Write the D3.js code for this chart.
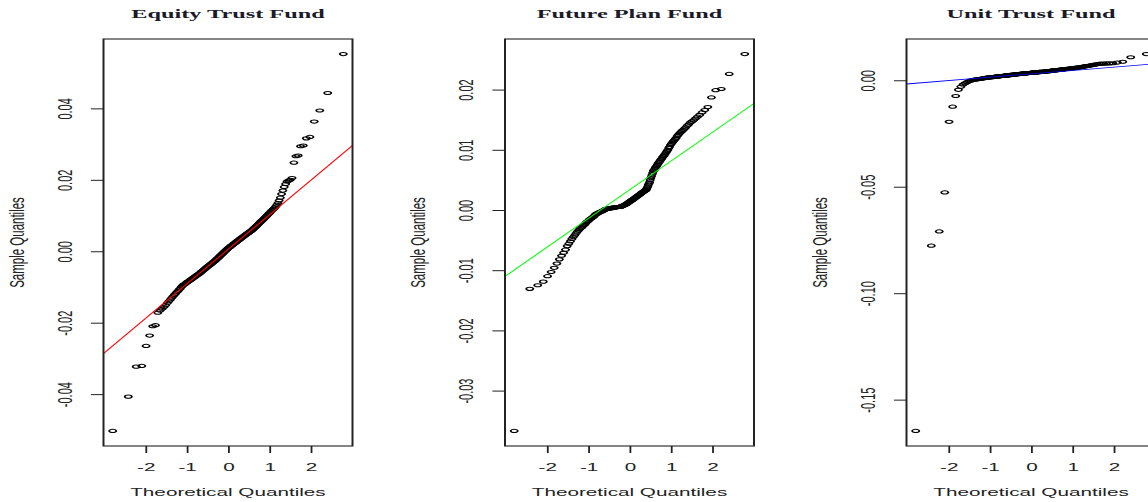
<!DOCTYPE html>
<html>
<head>
<meta charset="utf-8">
<script src="https://cdn.jsdelivr.net/npm/d3@7"></script>
<style>
html, body { margin: 0; padding: 0; background: #fff; overflow: hidden; }
svg { display: block; }
</style>
</head>
<body>
<div id="chart"></div>
<script>
// sample quantiles (sorted returns)
var titles = ["Equity Trust Fund", "Future Plan Fund", "Unit Trust Fund"];

var equity = [
  -0.0503, -0.0407, -0.0323, -0.0321, -0.0265, -0.0236, -0.0210, -0.0207, -0.0172, -0.0166,
  -0.0161, -0.0156, -0.0151, -0.0145, -0.0140, -0.0135, -0.0130, -0.0126, -0.0122, -0.0118,
  -0.0114, -0.0111, -0.0107, -0.0104, -0.0100, -0.0097, -0.0094, -0.0093, -0.0091, -0.0089,
  -0.0087, -0.0085, -0.0084, -0.0082, -0.0080, -0.0079, -0.0077, -0.0075, -0.0074, -0.0072,
  -0.0071, -0.0069, -0.0068, -0.0066, -0.0065, -0.0064, -0.0062, -0.0061, -0.0059, -0.0057,
  -0.0056, -0.0054, -0.0053, -0.0051, -0.0050, -0.0048, -0.0047, -0.0045, -0.0044, -0.0042,
  -0.0041, -0.0040, -0.0039, -0.0037, -0.0036, -0.0035, -0.0033, -0.0032, -0.0030, -0.0029,
  -0.0028, -0.0027, -0.0025, -0.0024, -0.0022, -0.0021, -0.0019, -0.0018, -0.0016, -0.0015,
  -0.0013, -0.0012, -0.0010, -0.0009, -0.0007, -0.0006, -0.0004, -0.0003, -0.0001, 0.0000,
  0.0002, 0.0003, 0.0004, 0.0006, 0.0007, 0.0009, 0.0010, 0.0011, 0.0012, 0.0013,
  0.0015, 0.0016, 0.0017, 0.0018, 0.0019, 0.0021, 0.0022, 0.0023, 0.0024, 0.0025,
  0.0027, 0.0028, 0.0029, 0.0030, 0.0031, 0.0033, 0.0034, 0.0035, 0.0036, 0.0038,
  0.0039, 0.0040, 0.0041, 0.0042, 0.0044, 0.0045, 0.0046, 0.0047, 0.0049, 0.0050,
  0.0051, 0.0052, 0.0054, 0.0055, 0.0056, 0.0057, 0.0059, 0.0060, 0.0062, 0.0064,
  0.0066, 0.0067, 0.0069, 0.0071, 0.0073, 0.0075, 0.0077, 0.0079, 0.0081, 0.0083,
  0.0085, 0.0087, 0.0089, 0.0091, 0.0094, 0.0096, 0.0098, 0.0101, 0.0103, 0.0106,
  0.0108, 0.0111, 0.0114, 0.0116, 0.0119, 0.0122, 0.0125, 0.0130, 0.0135, 0.0142,
  0.0150, 0.0160, 0.0170, 0.0180, 0.0188, 0.0195, 0.0198, 0.0200, 0.0205, 0.0248,
  0.0266, 0.0268, 0.0294, 0.0296, 0.0316, 0.0320, 0.0363, 0.0394, 0.0443, 0.0552
];

var futurePlan = [
  -0.0367, -0.0131, -0.0125, -0.0119, -0.0110, -0.0103, -0.0096, -0.0089, -0.0082, -0.0076,
  -0.0071, -0.0066, -0.0060, -0.0056, -0.0052, -0.0048, -0.0045, -0.0042, -0.0039, -0.0036,
  -0.0034, -0.0032, -0.0030, -0.0029, -0.0027, -0.0025, -0.0024, -0.0022, -0.0020, -0.0019,
  -0.0018, -0.0016, -0.0015, -0.0014, -0.0013, -0.0012, -0.0011, -0.0010, -0.0008, -0.0007,
  -0.0006, -0.0006, -0.0005, -0.0004, -0.0004, -0.0003, -0.0003, -0.0002, -0.0002, -0.0001,
  -0.0001, 0.0000, 0.0001, 0.0001, 0.0002, 0.0002, 0.0002, 0.0002, 0.0003, 0.0003,
  0.0003, 0.0003, 0.0003, 0.0003, 0.0004, 0.0004, 0.0004, 0.0004, 0.0004, 0.0004,
  0.0004, 0.0005, 0.0005, 0.0005, 0.0005, 0.0005, 0.0005, 0.0005, 0.0005, 0.0006,
  0.0006, 0.0007, 0.0007, 0.0007, 0.0008, 0.0008, 0.0009, 0.0009, 0.0009, 0.0010,
  0.0011, 0.0011, 0.0012, 0.0013, 0.0013, 0.0014, 0.0015, 0.0015, 0.0016, 0.0016,
  0.0017, 0.0018, 0.0018, 0.0019, 0.0020, 0.0020, 0.0021, 0.0022, 0.0022, 0.0023,
  0.0024, 0.0024, 0.0025, 0.0026, 0.0026, 0.0027, 0.0028, 0.0029, 0.0029, 0.0030,
  0.0031, 0.0031, 0.0032, 0.0033, 0.0033, 0.0035, 0.0037, 0.0039, 0.0042, 0.0044,
  0.0046, 0.0050, 0.0053, 0.0056, 0.0059, 0.0062, 0.0065, 0.0066, 0.0068, 0.0070,
  0.0072, 0.0073, 0.0075, 0.0077, 0.0079, 0.0080, 0.0082, 0.0084, 0.0085, 0.0087,
  0.0089, 0.0090, 0.0092, 0.0094, 0.0096, 0.0098, 0.0100, 0.0103, 0.0105, 0.0108,
  0.0110, 0.0112, 0.0114, 0.0116, 0.0118, 0.0120, 0.0123, 0.0125, 0.0127, 0.0129,
  0.0131, 0.0133, 0.0135, 0.0137, 0.0140, 0.0142, 0.0145, 0.0147, 0.0149, 0.0152,
  0.0155, 0.0158, 0.0162, 0.0166, 0.0171, 0.0187, 0.0199, 0.0201, 0.0226, 0.0259
];

var unitTrust = [
  -0.1647, -0.0777, -0.0710, -0.0527, -0.0195, -0.0124, -0.0074, -0.0045, -0.0030, -0.0020,
  -0.0014, -0.0009, -0.0005, -0.0002, 0.0000, 0.0002, 0.0003, 0.0004, 0.0005, 0.0006,
  0.0007, 0.0007, 0.0008, 0.0009, 0.0010, 0.0011, 0.0011, 0.0012, 0.0013, 0.0013,
  0.0014, 0.0014, 0.0015, 0.0015, 0.0015, 0.0016, 0.0016, 0.0017, 0.0017, 0.0018,
  0.0018, 0.0019, 0.0019, 0.0019, 0.0020, 0.0020, 0.0020, 0.0021, 0.0021, 0.0022,
  0.0022, 0.0022, 0.0023, 0.0023, 0.0023, 0.0024, 0.0024, 0.0024, 0.0025, 0.0025,
  0.0026, 0.0026, 0.0026, 0.0027, 0.0027, 0.0027, 0.0027, 0.0028, 0.0028, 0.0028,
  0.0029, 0.0029, 0.0029, 0.0029, 0.0030, 0.0030, 0.0030, 0.0030, 0.0031, 0.0031,
  0.0031, 0.0031, 0.0032, 0.0032, 0.0032, 0.0033, 0.0033, 0.0033, 0.0033, 0.0034,
  0.0034, 0.0034, 0.0034, 0.0035, 0.0035, 0.0035, 0.0035, 0.0036, 0.0036, 0.0036,
  0.0036, 0.0037, 0.0037, 0.0037, 0.0037, 0.0038, 0.0038, 0.0038, 0.0038, 0.0038,
  0.0039, 0.0039, 0.0039, 0.0039, 0.0040, 0.0040, 0.0040, 0.0040, 0.0041, 0.0041,
  0.0041, 0.0041, 0.0042, 0.0042, 0.0042, 0.0043, 0.0043, 0.0043, 0.0044, 0.0044,
  0.0044, 0.0045, 0.0045, 0.0045, 0.0046, 0.0046, 0.0047, 0.0047, 0.0047, 0.0048,
  0.0048, 0.0048, 0.0049, 0.0049, 0.0050, 0.0050, 0.0050, 0.0051, 0.0051, 0.0052,
  0.0052, 0.0053, 0.0053, 0.0054, 0.0054, 0.0054, 0.0055, 0.0055, 0.0056, 0.0056,
  0.0057, 0.0057, 0.0058, 0.0058, 0.0059, 0.0060, 0.0060, 0.0061, 0.0062, 0.0063,
  0.0064, 0.0065, 0.0066, 0.0067, 0.0068, 0.0069, 0.0071, 0.0072, 0.0074, 0.0075,
  0.0077, 0.0078, 0.0078, 0.0079, 0.0079, 0.0080, 0.0083, 0.0087, 0.0108, 0.0123
];

// qqline of each panel
var lineIntercepts = [0.0005, 0.00334, 0.0030];
var lineSlopes = [0.00966, 0.004766, 0.00158];
var lineColors = ["#ff0000", "#00ff00", "#0000ff"];

var xTicks = [-2, -1, 0, 1, 2];
var yTicks = [
  [-0.04, -0.02, 0.00, 0.02, 0.04],
  [-0.03, -0.02, -0.01, 0.00, 0.01, 0.02],
  [-0.15, -0.10, -0.05, 0.00]
];

var samples = [equity, futurePlan, unitTrust];

// the original R device got stretched sideways, so draw in a narrow box and stretch it
var stretch = 1.8;
var W = 1148, H = 502;
var panelLeft = [103.5, 505, 906.5];   // screen px
var panelWidth = 249;
var plotTop = 39, plotBottom = 446;

var svg = d3.select("#chart")
  .append("svg")
  .attr("width", W)
  .attr("height", H)
  .attr("viewBox", "0 0 " + (W / stretch) + " " + H)
  .attr("preserveAspectRatio", "none");

// inverse normal cdf (Acklam), for the theoretical quantiles
function qnorm(p) {
  var a = [-3.969683028665376e+01, 2.209460984245205e+02, -2.759285104469687e+02, 1.383577518672690e+02, -3.066479806614716e+01, 2.506628277459239e+00];
  var b = [-5.447609879822406e+01, 1.615858368580409e+02, -1.556989798598866e+02, 6.680131188771972e+01, -1.328068155288572e+01];
  var c = [-7.784894002430293e-03, -3.223964580411365e-01, -2.400758277161838e+00, -2.549732539343734e+00, 4.374664141464968e+00, 2.938163982698783e+00];
  var d = [7.784695709041462e-03, 3.224671290700398e-01, 2.445134137142996e+00, 3.754408661907416e+00];
  var plow = 0.02425, q, r;
  if (p < plow) {
    q = Math.sqrt(-2 * Math.log(p));
    return (((((c[0] * q + c[1]) * q + c[2]) * q + c[3]) * q + c[4]) * q + c[5]) /
      ((((d[0] * q + d[1]) * q + d[2]) * q + d[3]) * q + 1);
  }
  if (p > 1 - plow) {
    q = Math.sqrt(-2 * Math.log(1 - p));
    return -(((((c[0] * q + c[1]) * q + c[2]) * q + c[3]) * q + c[4]) * q + c[5]) /
      ((((d[0] * q + d[1]) * q + d[2]) * q + d[3]) * q + 1);
  }
  q = p - 0.5;
  r = q * q;
  return (((((a[0] * r + a[1]) * r + a[2]) * r + a[3]) * r + a[4]) * r + a[5]) * q /
    (((((b[0] * r + b[1]) * r + b[2]) * r + b[3]) * r + b[4]) * r + 1);
}

var sansFont = "'Liberation Sans', Arial, sans-serif";
var serifFont = "'Liberation Serif', 'Times New Roman', serif";

samples.forEach(function(sample, k) {
  var n = sample.length;
  var sorted = sample.slice().sort(d3.ascending);
  var pts = sorted.map(function(v, i) {
    return { x: qnorm((i + 0.5) / n), y: v };
  });

  var left = panelLeft[k] / stretch;
  var right = (panelLeft[k] + panelWidth) / stretch;
  var cx = (left + right) / 2;

  // R pads the data range by 4% on both ends
  var xr = d3.extent(pts, function(d) { return d.x; });
  var yr = d3.extent(pts, function(d) { return d.y; });
  var xpad = (xr[1] - xr[0]) * 0.04;
  var ypad = (yr[1] - yr[0]) * 0.04;

  var x = d3.scaleLinear().domain([xr[0] - xpad, xr[1] + xpad]).range([left, right]);
  var y = d3.scaleLinear().domain([yr[0] - ypad, yr[1] + ypad]).range([plotBottom, plotTop]);

  var g = svg.append("g").attr("class", "panel");

  svg.append("clipPath")
    .attr("id", "clip" + k)
    .append("rect")
    .attr("x", left)
    .attr("y", plotTop)
    .attr("width", right - left)
    .attr("height", plotBottom - plotTop);

  // points
  g.append("g")
    .selectAll("ellipse")
    .data(pts)
    .enter()
    .append("ellipse")
    .attr("cx", function(d) { return x(d.x); })
    .attr("cy", function(d) { return y(d.y); })
    .attr("rx", 2.0)
    .attr("ry", 1.6)
    .attr("fill", "none")
    .attr("stroke", "#000")
    .attr("stroke-width", 1.0);

  // reference line
  var x0 = x.domain()[0], x1 = x.domain()[1];
  g.append("line")
    .attr("clip-path", "url(#clip" + k + ")")
    .attr("x1", x(x0))
    .attr("y1", y(lineIntercepts[k] + lineSlopes[k] * x0))
    .attr("x2", x(x1))
    .attr("y2", y(lineIntercepts[k] + lineSlopes[k] * x1))
    .attr("stroke", lineColors[k])
    .attr("stroke-width", 0.8);

  // box
  g.append("rect")
    .attr("x", left)
    .attr("y", plotTop)
    .attr("width", right - left)
    .attr("height", plotBottom - plotTop)
    .attr("fill", "none")
    .attr("stroke", "#222")
    .attr("stroke-width", 1.1);

  // x axis
  var xa = g.append("g")
    .attr("transform", "translate(0," + plotBottom + ")")
    .call(d3.axisBottom(x).tickValues(xTicks).tickSize(7).tickSizeOuter(0)
      .tickFormat(function(d) { return String(d); }));
  xa.select(".domain").remove();
  xa.selectAll(".tick line").attr("stroke", "#222").attr("stroke-width", 1);
  xa.selectAll(".tick text")
    .attr("y", 25)
    .attr("dy", null)
    .attr("fill", "#222")
    .style("font-family", sansFont)
    .style("font-size", "11.5px");

  // y axis, labels turned like R's las = 0
  var ya = g.append("g")
    .attr("transform", "translate(" + left + ",0)")
    .call(d3.axisLeft(y).tickValues(yTicks[k]).tickSize(12.6 / stretch).tickSizeOuter(0)
      .tickFormat(function(d) { return d.toFixed(2); }));
  ya.select(".domain").remove();
  ya.selectAll(".tick line").attr("stroke", "#222").attr("stroke-width", 1);
  ya.selectAll(".tick text")
    .attr("x", 0)
    .attr("y", 0)
    .attr("dy", null)
    .attr("text-anchor", "middle")
    .attr("transform", "translate(" + (-32 / stretch) + ",0) rotate(-90)")
    .attr("fill", "#222")
    .style("font-family", sansFont)
    .style("font-size", "11px");

  // titles and axis labels
  g.append("text")
    .attr("x", cx)
    .attr("y", 18.5)
    .attr("text-anchor", "middle")
    .attr("fill", "#1a1a2a")
    .style("font-family", serifFont)
    .style("font-weight", "bold")
    .style("font-size", "13.5px")
    .text(titles[k]);

  g.append("text")
    .attr("x", cx)
    .attr("y", plotBottom + 50.5)
    .attr("text-anchor", "middle")
    .attr("fill", "#222")
    .style("font-family", sansFont)
    .style("font-size", "11.5px")
    .text("Theoretical Quantiles");

  g.append("text")
    .attr("transform", "translate(" + (left - 80 / stretch) + "," + ((plotTop + plotBottom) / 2) + ") rotate(-90)")
    .attr("text-anchor", "middle")
    .attr("fill", "#222")
    .style("font-family", sansFont)
    .style("font-size", "11.5px")
    .text("Sample Quantiles");
});
</script>
</body>
</html>
